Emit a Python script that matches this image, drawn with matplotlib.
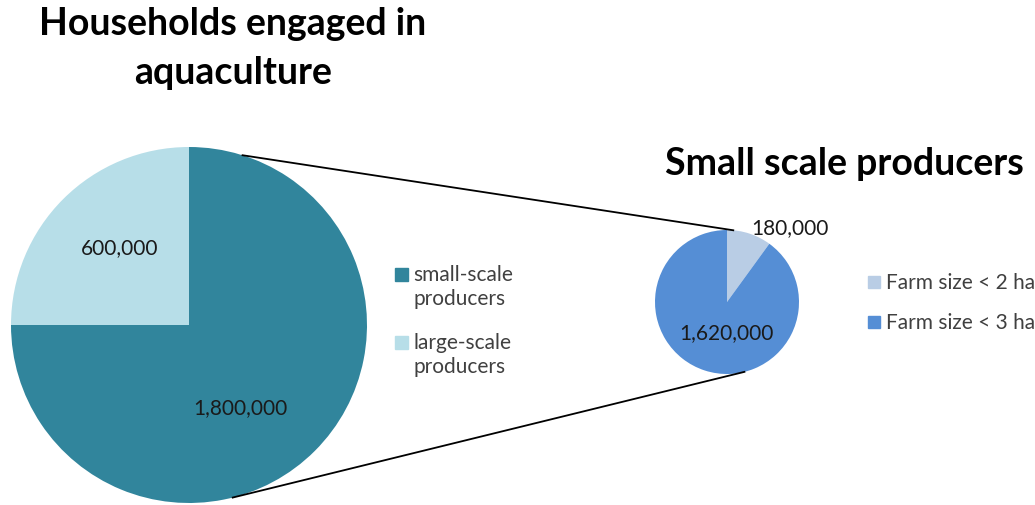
import numpy as np
import matplotlib.pyplot as plt

# households engaged in aquaculture
main_labels = ["large-scale\nproducers", "small-scale\nproducers"]
main_values = [600000, 1800000]
main_colors = ["#B7DEE8", "#31859C"]

# breakdown of the small-scale producers
sub_labels = ["Farm size < 2 ha", "Farm size < 3 ha"]
sub_values = [180000, 1620000]
sub_colors = ["#B9CDE5", "#558ED5"]

W, H = 1035, 506
font = "Lato"

fig = plt.figure(figsize=(W / 100, H / 100), dpi=100)
ax = fig.add_axes([0, 0, 1, 1])

big_c, big_r = (189, H - 326), 178
small_c, small_r = (727, H - 303), 72

ax.pie(main_values, colors=main_colors, startangle=90, counterclock=True,
       center=big_c, radius=big_r, wedgeprops=dict(linewidth=0))
ax.pie(sub_values, colors=sub_colors, startangle=90, counterclock=False,
       center=small_c, radius=small_r, wedgeprops=dict(linewidth=0))


def on_circle(c, r, deg):
    a = np.radians(deg)
    return c[0] + r * np.cos(a), c[1] + r * np.sin(a)


# connector lines between the two pies
for a1, a2 in [(72.5, 85), (-75.8, -76)]:
    p1 = on_circle(big_c, big_r, a1)
    p2 = on_circle(small_c, small_r, a2)
    ax.plot([p1[0], p2[0]], [p1[1], p2[1]], color="black", lw=1.3)

ax.set_xlim(0, W)
ax.set_ylim(0, H)
ax.set_aspect("equal")
ax.axis("off")

# value labels
lab = dict(fontsize=15, family=font, color="#1a1a1a", ha="center", va="center")
ax.text(120, H - 248, f"{main_values[0]:,}", **lab)
ax.text(240, H - 408, f"{main_values[1]:,}", **lab)
ax.text(790, H - 228, f"{sub_values[0]:,}", **lab)
ax.text(726, H - 333, f"{sub_values[1]:,}", **lab)

# titles
ttl = dict(fontsize=27, fontweight="bold", family=font, va="center")
ax.text(233, H - 24, "Households engaged in", ha="center", **ttl)
ax.text(233, H - 73, "aquaculture", ha="center", **ttl)
ax.text(665, H - 164, "Small scale producers", ha="left", **ttl)

# legends
leg = dict(fontsize=15, family=font, color="#404040", ha="left", va="center",
           linespacing=1.2)
for y, name, col in [(287, main_labels[1], main_colors[1]),
                     (355, main_labels[0], main_colors[0])]:
    ax.add_patch(plt.Rectangle((395, H - y + 12 - 6.5), 13, 13, color=col))
    ax.text(413, H - y, name, **leg)
for y, name, col in [(283, sub_labels[0], sub_colors[0]),
                     (323, sub_labels[1], sub_colors[1])]:
    ax.add_patch(plt.Rectangle((868, H - y - 6), 12, 12, color=col))
    ax.text(886, H - y, name, **leg)

fig.savefig("out.png", dpi=100, facecolor="white")
